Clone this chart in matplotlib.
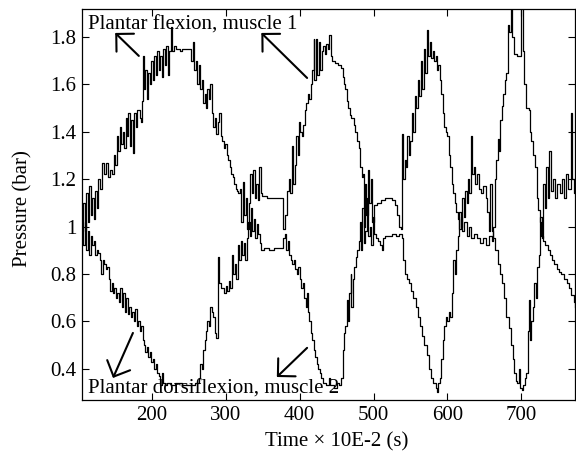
import matplotlib
matplotlib.use("Agg")
import matplotlib.pyplot as plt

# Plantar flexion, muscle 1
flexion_t = [105, 107, 109, 111, 113, 115, 117, 119, 121, 123, 125, 127, 130, 132, 135, 137, 140, 143, 146, 148,
             150, 152, 154, 156, 158, 160, 162, 164, 166, 168, 170, 172, 174, 176, 178, 180, 183, 185, 186, 187,
             189, 191, 193, 195, 197, 199, 201, 203, 205, 207, 209, 211, 213, 215, 217, 219, 221, 223, 225, 227,
             229, 232, 235, 238, 240, 245, 250, 253, 255, 257, 259, 261, 263, 265, 267, 269, 271, 273, 275, 277,
             279, 281, 283, 285, 287, 289, 291, 293, 295, 297, 299, 301, 303, 305, 307, 309, 311, 313, 315, 317,
             319, 321, 323, 325, 327, 329, 331, 333, 335, 337, 339, 341, 343, 345, 347, 349, 355, 360, 365, 370,
             376, 378, 380, 383, 385, 387, 389, 391, 393, 395, 397, 399, 401, 403, 405, 407, 409, 411, 413, 415,
             417, 419, 420, 422, 424, 426, 428, 430, 432, 434, 436, 438, 440, 442, 444, 448, 452, 456, 458, 460,
             462, 464, 466, 468, 470, 473, 475, 478, 480, 482, 484, 486, 487, 489, 490, 492, 494, 496, 498, 500,
             505, 510, 515, 520, 525, 529, 532, 535, 537, 538, 540, 542, 544, 546, 548, 550, 552, 554, 556, 558,
             560, 562, 564, 566, 568, 570, 572, 574, 576, 578, 580, 582, 584, 586, 588, 590, 592, 594, 596, 598,
             600, 602, 604, 606, 608, 610, 612, 614, 616, 618, 620, 623, 626, 629, 632, 636, 640, 644, 648, 652,
             656, 660, 662, 664, 666, 668, 670, 672, 674, 676, 678, 680, 682, 684, 686, 688, 690, 694, 698, 700,
             702, 704, 706, 710, 712, 714, 716, 719, 721, 723, 725, 727, 730, 733, 736, 739, 742, 745, 748, 751,
             754, 758, 762, 765, 768, 771, 773]
flexion_p = [1.00, 1.10, 0.98, 1.14, 1.02, 1.17, 1.05, 1.12, 1.03, 1.15, 1.08, 1.20, 1.16, 1.27, 1.22, 1.27, 1.21, 1.24, 1.22, 1.30,
             1.26, 1.38, 1.32, 1.42, 1.35, 1.40, 1.33, 1.46, 1.38, 1.48, 1.34, 1.45, 1.31, 1.48, 1.42, 1.49, 1.46, 1.44, 1.53, 1.72,
             1.58, 1.66, 1.54, 1.65, 1.60, 1.70, 1.62, 1.72, 1.64, 1.74, 1.66, 1.72, 1.63, 1.75, 1.68, 1.76, 1.64, 1.74, 1.84, 1.74,
             1.76, 1.75, 1.75, 1.74, 1.75, 1.75, 1.75, 1.70, 1.78, 1.66, 1.70, 1.60, 1.68, 1.58, 1.62, 1.52, 1.56, 1.50, 1.58, 1.54,
             1.60, 1.48, 1.42, 1.46, 1.39, 1.44, 1.48, 1.38, 1.36, 1.33, 1.35, 1.30, 1.28, 1.25, 1.22, 1.21, 1.18, 1.16, 1.15, 1.14,
             1.16, 1.02, 1.19, 1.05, 1.12, 0.99, 1.10, 1.22, 1.14, 1.24, 1.12, 1.18, 1.11, 1.25, 1.14, 1.13, 1.12, 1.12, 1.12, 1.12,
             1.12, 0.99, 1.05, 1.15, 1.20, 1.14, 1.34, 1.18, 1.26, 1.38, 1.30, 1.44, 1.40, 1.38, 1.43, 1.49, 1.52, 1.56, 1.54, 1.60,
             1.66, 1.79, 1.62, 1.79, 1.64, 1.78, 1.66, 1.74, 1.76, 1.73, 1.77, 1.75, 1.81, 1.72, 1.70, 1.69, 1.68, 1.67, 1.63, 1.60,
             1.58, 1.53, 1.50, 1.47, 1.46, 1.43, 1.40, 1.36, 1.33, 1.25, 1.21, 1.22, 1.00, 1.18, 1.05, 1.24, 1.10, 1.20, 1.02, 1.09,
             1.10, 1.11, 1.12, 1.12, 1.11, 1.09, 1.05, 1.00, 0.99, 1.39, 1.20, 1.28, 1.25, 1.38, 1.30, 1.36, 1.48, 1.40, 1.55, 1.50,
             1.62, 1.55, 1.70, 1.58, 1.75, 1.65, 1.83, 1.72, 1.78, 1.71, 1.74, 1.70, 1.72, 1.66, 1.68, 1.62, 1.56, 1.48, 1.42, 1.40,
             1.38, 1.30, 1.25, 1.18, 1.14, 1.10, 1.06, 1.03, 0.99, 1.04, 0.98, 1.02, 0.96, 1.00, 0.95, 0.97, 0.95, 0.93, 0.95, 0.92,
             0.96, 0.94, 1.00, 1.20, 1.28, 1.37, 1.32, 1.45, 1.51, 1.56, 1.62, 1.65, 1.85, 1.82, 1.95, 1.80, 1.73, 1.72, 1.72, 1.95,
             1.74, 1.60, 1.50, 1.49, 1.40, 1.36, 1.30, 1.25, 1.12, 1.07, 1.02, 0.96, 0.94, 0.92, 0.90, 0.88, 0.86, 0.84, 0.82, 0.81,
             0.80, 0.78, 0.76, 0.74, 0.71, 0.68, 0.66]

# Plantar dorsiflexion, muscle 2
dorsi_t = [105, 107, 109, 111, 113, 115, 117, 119, 121, 123, 125, 127, 129, 131, 133, 135, 137, 139, 141, 143,
           145, 147, 149, 151, 153, 155, 157, 159, 161, 163, 165, 167, 169, 171, 173, 175, 177, 179, 181, 183,
           185, 187, 189, 191, 193, 195, 197, 199, 201, 203, 205, 207, 209, 211, 213, 215, 217, 220, 225, 231,
           240, 250, 258, 263, 265, 267, 269, 271, 273, 275, 277, 279, 281, 283, 285, 287, 289, 291, 294, 297,
           300, 302, 304, 306, 308, 310, 312, 314, 316, 318, 320, 322, 324, 326, 328, 330, 332, 334, 336, 338,
           340, 342, 344, 346, 348, 352, 358, 365, 370, 376, 378, 380, 382, 384, 386, 388, 390, 392, 394, 396,
           398, 400, 402, 404, 406, 408, 410, 411, 413, 415, 417, 419, 421, 423, 425, 427, 429, 432, 436, 440,
           441, 446, 450, 453, 456, 458, 460, 462, 464, 465, 467, 469, 470, 472, 474, 476, 478, 480, 482, 483,
           485, 487, 489, 491, 493, 495, 497, 499, 501, 503, 506, 509, 511, 513, 516, 520, 525, 530, 535, 538,
           540, 542, 545, 548, 551, 554, 557, 560, 563, 566, 569, 572, 575, 578, 581, 584, 586, 588, 590, 592,
           594, 596, 598, 600, 602, 604, 606, 608, 610, 612, 614, 616, 618, 620, 622, 624, 626, 628, 630, 632,
           634, 636, 638, 640, 643, 646, 649, 652, 654, 656, 658, 660, 662, 665, 668, 671, 674, 677, 680, 683,
           686, 689, 691, 693, 695, 697, 699, 701, 703, 705, 707, 709, 711, 712, 714, 716, 718, 720, 722, 724,
           726, 728, 730, 732, 734, 736, 738, 740, 743, 746, 749, 752, 755, 758, 761, 764, 767, 769, 771, 773]
dorsi_p = [1.00, 0.92, 1.02, 0.90, 0.98, 0.88, 0.96, 0.92, 0.94, 0.88, 0.90, 0.89, 0.86, 0.80, 0.86, 0.84, 0.82, 0.83, 0.78, 0.73,
           0.76, 0.72, 0.74, 0.70, 0.72, 0.68, 0.74, 0.66, 0.72, 0.64, 0.70, 0.63, 0.66, 0.62, 0.64, 0.60, 0.65, 0.58, 0.60, 0.56,
           0.58, 0.52, 0.50, 0.47, 0.49, 0.45, 0.47, 0.43, 0.44, 0.40, 0.42, 0.38, 0.37, 0.33, 0.38, 0.34, 0.33, 0.34, 0.33, 0.34,
           0.33, 0.33, 0.34, 0.36, 0.42, 0.40, 0.48, 0.52, 0.56, 0.60, 0.58, 0.66, 0.64, 0.62, 0.55, 0.53, 0.87, 0.76, 0.74, 0.72,
           0.75, 0.73, 0.77, 0.74, 0.88, 0.80, 0.84, 0.78, 0.92, 0.86, 0.94, 0.88, 0.93, 0.86, 0.95, 1.02, 0.96, 1.08, 0.98, 1.03,
           0.95, 1.01, 0.97, 0.93, 0.90, 0.91, 0.90, 0.91, 0.91, 0.91, 0.95, 0.97, 0.90, 0.94, 0.88, 0.86, 0.84, 0.86, 0.82, 0.80,
           0.83, 0.78, 0.74, 0.76, 0.70, 0.66, 0.72, 0.64, 0.60, 0.55, 0.52, 0.48, 0.45, 0.42, 0.40, 0.38, 0.36, 0.34, 0.33, 0.36,
           0.33, 0.32, 0.34, 0.33, 0.36, 0.48, 0.55, 0.58, 0.69, 0.60, 0.72, 0.80, 0.66, 0.78, 0.83, 0.87, 0.90, 0.94, 1.02, 0.90,
           1.08, 0.93, 0.98, 1.12, 0.96, 1.00, 0.92, 1.04, 0.97, 0.95, 0.94, 0.92, 0.90, 0.95, 0.96, 0.96, 0.97, 0.96, 0.97, 0.95,
           0.86, 0.80, 0.78, 0.76, 0.73, 0.70, 0.66, 0.62, 0.58, 0.54, 0.50, 0.46, 0.40, 0.36, 0.34, 0.32, 0.30, 0.34, 0.36, 0.44,
           0.52, 0.58, 0.62, 0.60, 0.64, 0.62, 0.72, 0.86, 0.80, 0.90, 0.96, 1.06, 1.00, 1.12, 1.04, 1.15, 1.10, 1.20, 1.14, 1.38,
           1.22, 1.25, 1.18, 1.22, 1.16, 1.14, 1.17, 1.12, 1.06, 0.98, 1.18, 0.98, 0.95, 0.90, 0.84, 0.80, 0.76, 0.70, 0.62, 0.57,
           0.50, 0.44, 0.38, 0.35, 0.34, 0.40, 0.32, 0.31, 0.33, 0.36, 0.38, 0.56, 0.69, 0.52, 0.60, 0.66, 0.76, 0.70, 0.83, 0.88,
           1.04, 0.95, 1.18, 1.08, 1.25, 1.12, 1.32, 1.15, 1.20, 1.12, 1.18, 1.14, 1.20, 1.12, 1.22, 1.16, 1.48, 1.20, 1.14, 1.17]

x_ticks = [200, 300, 400, 500, 600, 700]
y_ticks = [0.4, 0.6, 0.8, 1.0, 1.2, 1.4, 1.6, 1.8]
y_tick_labels = ["0.4", "0.6", "0.8", "1", "1.2", "1.4", "1.6", "1.8"]

plt.rcParams["font.family"] = ["Liberation Serif", "DejaVu Serif"]
plt.rcParams["mathtext.fontset"] = "stix"

fig = plt.figure(figsize=(5.76, 4.54), dpi=100)
ax = fig.add_axes([82 / 576, 54 / 454, 493 / 576, 391 / 454])

ax.plot(flexion_t, flexion_p, color="black", linewidth=0.9, drawstyle="steps-post")
ax.plot(dorsi_t, dorsi_p, color="black", linewidth=0.9, drawstyle="steps-post")

ax.set_xlim(105, 773)
ax.set_ylim(0.268, 1.918)
ax.set_xticks(x_ticks)
ax.set_yticks(y_ticks)
ax.set_yticklabels(y_tick_labels)
ax.tick_params(direction="in", top=True, right=True, length=5, width=0.8,
               labelsize=15, pad=4)
for s in ax.spines.values():
    s.set_linewidth(0.9)

ax.set_xlabel("Time \u00d7 10E-2 (s)", fontsize=15)
ax.set_ylabel("Pressure (bar)", fontsize=15)
ax.xaxis.set_label_coords(0.517, -0.082)
ax.yaxis.set_label_coords(-0.10, 0.49)

# labels and arrows
ax.text(113, 1.832, "Plantar flexion, muscle 1", fontsize=15, ha="left", va="baseline")
ax.text(113, 0.296, "Plantar dorsiflexion, muscle 2", fontsize=15, ha="left", va="baseline")

arrow = dict(arrowstyle="->, head_length=0.6, head_width=0.6", color="black", lw=1.5,
             shrinkA=0, shrinkB=0)
ax.annotate("", xy=(150, 1.817), xytext=(182, 1.72), arrowprops=arrow, fontsize=15)
ax.annotate("", xy=(348, 1.817), xytext=(410, 1.627), arrowprops=arrow, fontsize=15)
ax.annotate("", xy=(147, 0.361), xytext=(174, 0.551), arrowprops=arrow, fontsize=15)
ax.annotate("", xy=(369, 0.365), xytext=(410, 0.488), arrowprops=arrow, fontsize=15)

fig.savefig("out.png", dpi=100)
plt.close()
